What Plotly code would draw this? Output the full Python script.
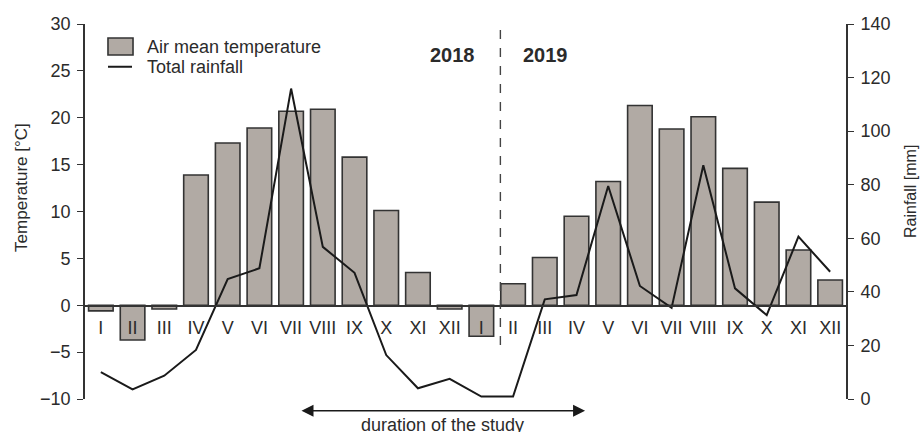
import plotly.graph_objects as go

# month labels (Roman numerals), two years side by side
months = ["I", "II", "III", "IV", "V", "VI", "VII", "VIII", "IX", "X", "XI", "XII"]
years = ["2018", "2019"]

# air mean temperature [°C]
temp_2018 = [-0.6, -3.7, -0.4, 13.9, 17.3, 18.9, 20.7, 20.9, 15.8, 10.1, 3.5, -0.4]
temp_2019 = [-3.3, 2.3, 5.1, 9.5, 13.2, 21.3, 18.8, 20.1, 14.6, 11.0, 5.9, 2.7]

# total rainfall [mm]
rain_2018 = [10.0, 3.6, 8.7, 18.3, 44.8, 48.8, 115.9, 56.8, 47.1, 16.4, 4.0, 7.5]
rain_2019 = [0.9, 0.9, 37.2, 38.8, 79.5, 42.2, 34.0, 87.3, 41.3, 31.3, 60.6, 47.5]

labels = months + months
temps = temp_2018 + temp_2019
rain = rain_2018 + rain_2019
xpos = list(range(len(labels)))

FONT = "Liberation Sans, Arial, sans-serif"
INK = "#2b2b2b"
BAR_FILL = "#b1aaa4"
EDGE = "#333333"

bar_name = "Air mean temperature"
line_name = "Total rainfall"

fig = go.Figure()
fig.add_trace(go.Bar(
    x=xpos, y=temps, name=bar_name, showlegend=False,
    marker=dict(color=BAR_FILL, line=dict(color=EDGE, width=1.6)),
    yaxis="y",
))
fig.add_trace(go.Scatter(
    x=xpos, y=rain, name=line_name, mode="lines", showlegend=False,
    line=dict(color="#1a1a1a", width=2),
    yaxis="y2",
))

# legend drawn by hand (large swatch like the original)
fig.add_shape(type="rect", xref="paper", yref="paper", x0=0.0302, x1=0.0631, y0=0.9173, y1=0.9627,
              fillcolor=BAR_FILL, line=dict(color=EDGE, width=1.6))
fig.add_shape(type="line", xref="paper", yref="paper", x0=0.0302, x1=0.0618, y0=0.886, y1=0.886,
              line=dict(color="#1a1a1a", width=2))
fig.add_annotation(x=0.0788, y=0.9387, xref="paper", yref="paper", text=bar_name, showarrow=False,
                   xanchor="left", yanchor="middle", font=dict(size=18, family=FONT, color=INK))
fig.add_annotation(x=0.0788, y=0.8853, xref="paper", yref="paper", text=line_name, showarrow=False,
                   xanchor="left", yanchor="middle", font=dict(size=18, family=FONT, color=INK))

# year divider
fig.add_shape(type="line", xref="x", yref="paper", x0=12.6, x1=12.6, y0=0.144, y1=1.0,
              line=dict(color="#444444", width=1.4, dash="dash"))

fig.add_annotation(x=11.1, y=1.0, xref="x", yref="paper", yanchor="top", yshift=-18,
                   text="<b>" + years[0] + "</b>", showarrow=False,
                   font=dict(size=20, family=FONT, color=INK))
fig.add_annotation(x=14.01, y=1.0, xref="x", yref="paper", yanchor="top", yshift=-18,
                   text="<b>" + years[1] + "</b>", showarrow=False,
                   font=dict(size=20, family=FONT, color=INK))

# axis titles
fig.add_annotation(x=0.0, y=0.563, xref="paper", yref="paper", xanchor="center", yanchor="middle",
                   xshift=-63, text="Temperature [°C]", textangle=-90, showarrow=False,
                   font=dict(size=17, family=FONT, color=INK))
fig.add_annotation(x=1.0, y=0.552, xref="paper", yref="paper", xanchor="center", yanchor="middle",
                   xshift=65, text="Rainfall [mm]", textangle=-90, showarrow=False,
                   font=dict(size=16, family=FONT, color=INK))

# duration of the study arrow
fig.add_annotation(x=15.27, y=-0.031, xref="x", yref="paper", axref="x", ax=6.28, ayref="pixel", ay=0,
                   text="", showarrow=True, arrowside="end+start", arrowhead=2, arrowsize=1.6,
                   arrowwidth=1.5, arrowcolor="#1a1a1a")
fig.add_annotation(x=10.76, y=-0.069, xref="x", yref="paper", text="duration of the study",
                   showarrow=False, yanchor="middle", font=dict(size=18, family=FONT, color=INK))

fig.update_layout(
    width=923, height=432,
    margin=dict(l=85, r=77, t=24, b=33, autoexpand=False),
    paper_bgcolor="white", plot_bgcolor="white",
    font=dict(family=FONT, size=16, color=INK),
    bargap=0.225,
    showlegend=False,
    xaxis=dict(
        range=[-0.5, 23.5], tickmode="array", tickvals=xpos, ticktext=labels,
        anchor="free", position=0.248, showline=True, linecolor=EDGE, linewidth=1.5,
        ticks="", showgrid=False, zeroline=False, tickfont=dict(size=18, color=INK),
        ticklabelstandoff=6, automargin=False,
    ),
    yaxis=dict(
        range=[-10, 30], dtick=5, tick0=-10, showgrid=False, zeroline=False,
        showline=True, linecolor=EDGE, linewidth=1.6, ticks="outside", ticklen=6,
        tickcolor=EDGE, tickwidth=1.4, tickfont=dict(size=18, color=INK),
        ticklabelstandoff=3, automargin=False,
    ),
    yaxis2=dict(
        range=[0, 140], dtick=20, overlaying="y", side="right", showgrid=False, zeroline=False,
        showline=True, linecolor=EDGE, linewidth=1.6, ticks="outside", ticklen=6,
        tickcolor=EDGE, tickwidth=1.4, tickfont=dict(size=18, color=INK),
        ticklabelstandoff=3, automargin=False,
    ),
)

# the page body has a default 8px margin; drop it so the figure sits at the window's corner
fig.write_html("out.html", config={"displayModeBar": False},
               post_script="document.body.style.margin='0';")
